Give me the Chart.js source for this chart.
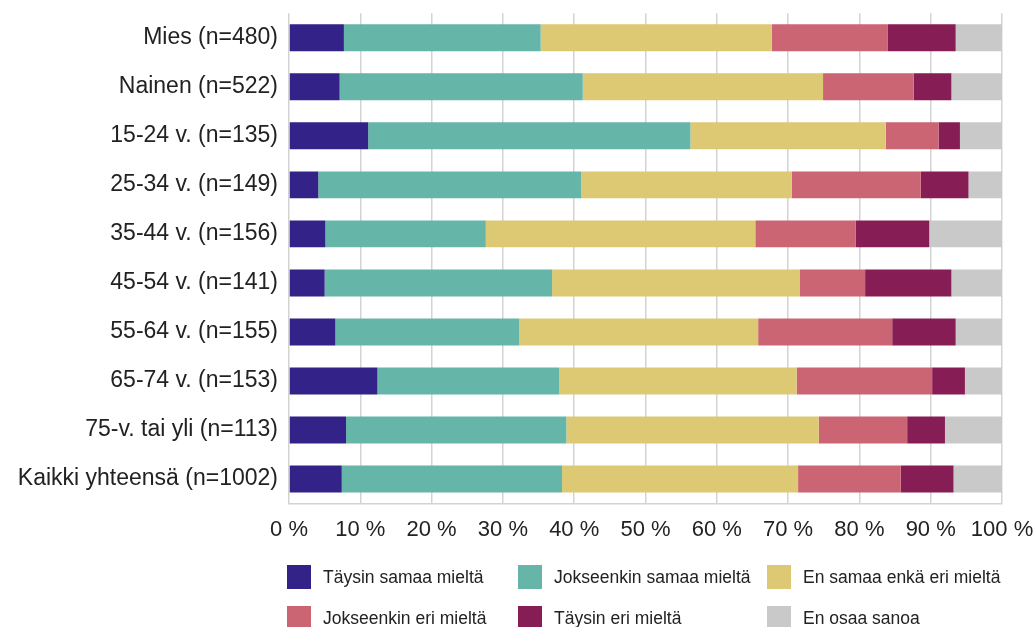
<!DOCTYPE html>
<html lang="fi">
<head>
<meta charset="utf-8">
<script src="https://cdn.jsdelivr.net/npm/chart.js@4.4.1/dist/chart.umd.min.js"></script>
<style>
  html, body { margin: 0; padding: 0; background: #fff; }
  #wrap { position: relative; width: 1035px; height: 627px; overflow: hidden; }
  #legend { position: absolute; left: 0; top: 0; width: 1035px; height: 627px; pointer-events: none;
            font-family: "Liberation Sans", Arial, sans-serif; font-size: 17.5px; color: #222; }
  .item { position: absolute; display: flex; align-items: center; height: 24px; white-space: nowrap; }
  .box { width: 24px; height: 24px; margin-right: 12px; flex: none; }
</style>
</head>
<body>
<div id="wrap">
  <canvas id="chart" width="1035" height="627"></canvas>
  <div id="legend"></div>
</div>
<script>
// vastaajaryhmät
const groups = [
  'Mies (n=480)',
  'Nainen (n=522)',
  '15-24 v. (n=135)',
  '25-34 v. (n=149)',
  '35-44 v. (n=156)',
  '45-54 v. (n=141)',
  '55-64 v. (n=155)',
  '65-74 v. (n=153)',
  '75-v. tai yli (n=113)',
  'Kaikki yhteensä (n=1002)'
];

// osuudet prosentteina, sama järjestys kuin ryhmillä
const taysinSamaa     = [7.7, 7.1, 11.1, 4.1, 5.1, 5.0, 6.5, 12.4, 8.0, 7.4];
const jokseenkinSamaa = [27.6, 34.1, 45.2, 36.9, 22.5, 31.9, 25.8, 25.5, 30.9, 30.9];
const enSamaaEnkaEri  = [32.4, 33.7, 27.4, 29.5, 37.8, 34.7, 33.5, 33.3, 35.4, 33.1];
const jokseenkinEri   = [16.3, 12.7, 7.4, 18.1, 14.1, 9.2, 18.8, 19.0, 12.4, 14.4];
const taysinEri       = [9.5, 5.3, 3.0, 6.7, 10.3, 12.1, 8.9, 4.6, 5.3, 7.4];
const enOsaaSanoa     = [6.5, 7.1, 5.9, 4.7, 10.2, 7.1, 6.5, 5.2, 8.0, 6.8];

const answerLabels = [
  'Täysin samaa mieltä',
  'Jokseenkin samaa mieltä',
  'En samaa enkä eri mieltä',
  'Jokseenkin eri mieltä',
  'Täysin eri mieltä',
  'En osaa sanoa'
];
const answerValues = [taysinSamaa, jokseenkinSamaa, enSamaaEnkaEri, jokseenkinEri, taysinEri, enOsaaSanoa];
const answerColors = ['#332288', '#66b5a9', '#ddc974', '#cb6574', '#861e55', '#c9c9c9'];

const xTicks = [0, 10, 20, 30, 40, 50, 60, 70, 80, 90, 100];

const font = "'Liberation Sans', Arial, sans-serif";

// akselien omat reunavaraukset pois, jotta piirtoalue menee layout.paddingin mukaan
function noScalePadding(scale) {
  scale.paddingTop = 0;
  scale.paddingBottom = 0;
  scale.paddingLeft = 0;
  scale.paddingRight = 0;
}

const chart = new Chart(document.getElementById('chart'), {
  type: 'bar',
  data: {
    labels: groups,
    datasets: answerLabels.map((label, i) => ({
      label: label,
      data: answerValues[i],
      backgroundColor: answerColors[i],
      borderWidth: 0,
      barPercentage: 0.55,
      categoryPercentage: 1
    }))
  },
  options: {
    indexAxis: 'y',
    responsive: false,
    animation: false,
    layout: { padding: { top: 13.3, right: 33, left: 0, bottom: 0 } },
    plugins: {
      legend: { display: false },
      tooltip: { enabled: false }
    },
    scales: {
      x: {
        stacked: true,
        min: 0,
        max: 100,
        afterBuildTicks: (scale) => { scale.ticks = xTicks.map(v => ({ value: v })); },
        afterFit: (scale) => { scale.height = 123.5; noScalePadding(scale); },
        ticks: {
          callback: (v) => v + ' %',
          color: '#222',
          padding: 13,
          maxRotation: 0,
          font: { family: font, size: 22 }
        },
        grid: { color: '#d3d3d3', lineWidth: 1.5, drawTicks: false },
        border: { color: '#d3d3d3', width: 1.5 }
      },
      y: {
        stacked: true,
        afterFit: (scale) => { scale.width = 289; noScalePadding(scale); },
        ticks: {
          color: '#222',
          padding: 11,
          font: { family: font, size: 23 }
        },
        grid: { display: false, drawTicks: false },
        border: { display: false }
      }
    }
  }
});

// selite kolmeen sarakkeeseen kaavion alle
const legendCols = [287, 518, 767];
const legendRows = [565, 606];
const legendEl = document.getElementById('legend');
chart.data.datasets.forEach((ds, i) => {
  const item = document.createElement('div');
  item.className = 'item';
  item.style.left = legendCols[i % 3] + 'px';
  item.style.top = legendRows[Math.floor(i / 3)] + 'px';
  const box = document.createElement('span');
  box.className = 'box';
  box.style.background = ds.backgroundColor;
  const text = document.createElement('span');
  text.textContent = ds.label;
  item.appendChild(box);
  item.appendChild(text);
  legendEl.appendChild(item);
});
</script>
</body>
</html>
